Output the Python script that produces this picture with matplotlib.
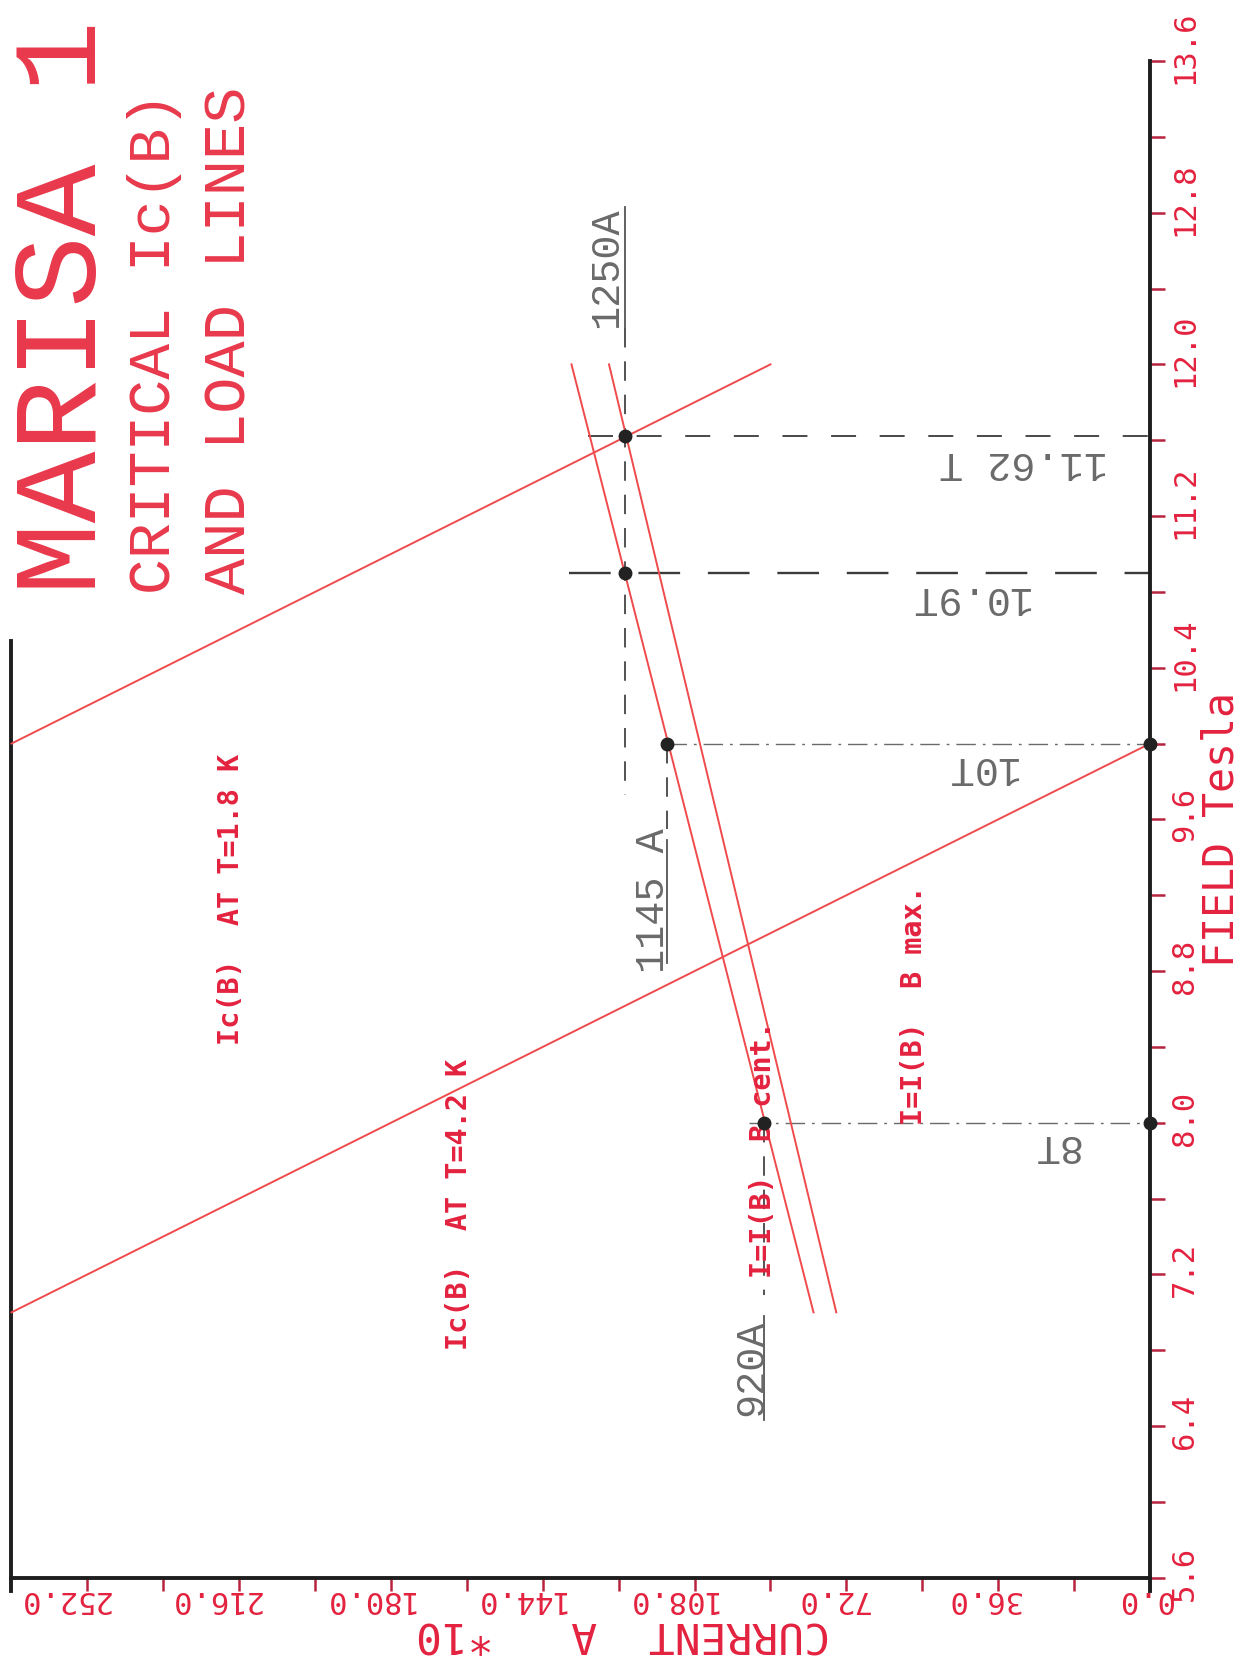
import matplotlib
matplotlib.use("Agg")
import matplotlib.pyplot as plt
from matplotlib.transforms import offset_copy

plt.rcParams['lines.scale_dashes'] = False
plt.rcParams['font.family'] = ['DejaVu Sans Mono', 'DejaVu Sans']

# ---------------- data ----------------
current_ticks = [0, 18, 36, 54, 72, 90, 108, 126, 144, 162, 180, 198, 216, 234, 252]
current_label_values = [0, 36, 72, 108, 144, 180, 216, 252]
field_ticks = [5.6, 6.0, 6.4, 6.8, 7.2, 7.6, 8.0, 8.4, 8.8, 9.2, 9.6, 10.0,
               10.4, 10.8, 11.2, 11.6, 12.0, 12.4, 12.8, 13.2, 13.6]
field_label_values = [5.6, 6.4, 7.2, 8.0, 8.8, 9.6, 10.4, 11.2, 12.0, 12.8, 13.6]

# critical current lines Ic(B)  (current in A*10, field in T)
ic42_field = [7.0, 10.0]
ic42_current = [270.0, 0.0]
ic18_field = [10.0, 12.0]
ic18_current = [270.0, 90.0]
# load lines
bcent_field = [7.0, 12.0]
bcent_current = [79.8, 137.2]
bmax_field = [7.0, 12.0]
bmax_current = [74.4, 128.3]

# operating points (black dots)
point_field = [11.62, 10.9, 10.0, 8.0, 10.0, 8.0]
point_current = [124.4, 124.4, 114.5, 91.6, 0.0, 0.0]

# hand drawn guide lines
h_guides_field = [11.62, 10.9, 10.0, 8.0]
h_guides_from = [133.3, 137.8, 114.5, 95.0]
v_guides_current = [124.4, 114.5, 91.6]
v_dash_from = [12.19, 10.0, 8.0]
v_dash_to = [9.73, 9.55, 7.09]
v_solid_from = [12.83, 9.49, 6.98]
v_solid_to = [12.19, 8.84, 6.43]

# ---------------- figure ----------------
W, H = 1249, 1663
fig = plt.figure(figsize=(W / 100, H / 100), dpi=100)
fig.patch.set_facecolor('white')

X0_PX = 1150.0       # pixel of current 0
PX_PER_I = 4.2167
Y_TOP_PX = 61.0      # pixel of field 13.6
PX_PER_B = 189.6
I_MAX, B_MIN, B_MAX = 270.0, 5.6, 13.6
left_px = X0_PX - I_MAX * PX_PER_I
bottom_px = Y_TOP_PX + (B_MAX - B_MIN) * PX_PER_B
ax = fig.add_axes([left_px / W, 1 - bottom_px / H,
                   (X0_PX - left_px) / W, (bottom_px - Y_TOP_PX) / H])
ax.set_xlim(I_MAX, 0)
ax.set_ylim(B_MIN, B_MAX)
ax.patch.set_alpha(0)

RED = '#e3223f'
LINE_RED = '#ef4a4c'
TICK_RED = '#b8233d'
DARK = '#1e1e1e'
GRAY = '#6a6a6a'
THIN_MONO = ['Liberation Mono', 'DejaVu Sans Mono']

# spines
ax.spines['top'].set_visible(False)
for s in ('left', 'right', 'bottom'):
    ax.spines[s].set_linewidth(2.8)
    ax.spines[s].set_color(DARK)
ax.spines['left'].set_bounds(5.53, 10.54)
ax.spines['right'].set_bounds(5.53, 13.6)

ax.set_xticks(current_ticks)
ax.yaxis.tick_right()
ax.set_yticks(field_ticks)
ax.tick_params(axis='x', direction='out', length=9, width=1.8, color=TICK_RED,
               labelbottom=False)
ax.tick_params(axis='y', direction='out', length=11, width=1.8, color=TICK_RED,
               labelright=False, labelleft=False, left=False)

# tick labels
for v in current_label_values:
    tr = offset_copy(ax.transData, fig=fig, x=22, y=-13, units='dots')
    ax.text(v, B_MIN, f'{v:.1f}', transform=tr, rotation=180, rotation_mode='anchor',
            ha='left', va='baseline', fontsize=22, color=RED, clip_on=False)
for v in field_label_values:
    tr = offset_copy(ax.transData, fig=fig, x=43, y=-23, units='dots')
    ax.text(0, v, f'{v:.1f}', transform=tr, rotation=90, rotation_mode='anchor',
            ha='left', va='baseline', fontsize=22, color=RED, clip_on=False)

# red lines
for xs, ys in ((ic42_current, ic42_field), (ic18_current, ic18_field),
               (bcent_current, bcent_field), (bmax_current, bmax_field)):
    ax.plot(xs, ys, color=LINE_RED, lw=1.4, clip_on=False, zorder=3)

# guide lines
h_styles = [dict(dashes=(18, 17), lw=1.3, color='#3a3a3a'),
            dict(dashes=(30, 20), lw=1.7, color='#3a3a3a'),
            dict(dashes=(14, 5, 2, 5), lw=1.0, color='#6a6a6a'),
            dict(dashes=(14, 5, 2, 5), lw=1.0, color='#6a6a6a')]
for f, i0, st in zip(h_guides_field, h_guides_from, h_styles):
    ax.plot([i0, 0], [f, f], zorder=2, **st)
for c, a, b in zip(v_guides_current, v_dash_from, v_dash_to):
    ax.plot([c, c], [a, b], color='#444444', lw=1.3, dashes=(14, 10), zorder=2)
for c, a, b in zip(v_guides_current, v_solid_from, v_solid_to):
    ax.plot([c, c], [a, b], color='#555555', lw=1.3, zorder=2)

# dots
ax.plot(point_current, point_field, 'o', color='#222222', ms=9, zorder=5, clip_on=False)

# red labels
bold = dict(color=RED, fontsize=20.5, fontweight='bold', rotation=90,
            rotation_mode='anchor', ha='center', va='center')
ax.text(217.9, 9.18, 'Ic(B)  AT T=1.8 K', **bold)
ax.text(163.9, 7.57, 'Ic(B)  AT T=4.2 K', **bold)
ax.text(91.8, 7.86, 'I=I(B)  B cent.', **bold)
ax.text(56.0, 8.62, 'I=I(B)  B max.', **bold)

# hand-written annotations
hand = dict(color=GRAY, fontsize=29, family=THIN_MONO,
            rotation_mode='anchor', ha='center', va='center')
ax.text(128.9, 12.51, '1250A', rotation=90, **hand)
ax.text(117.8, 9.17, '1145 A', rotation=90, **hand)
ax.text(94.6, 6.71, '920A', rotation=90, **hand)
ax.text(30.1, 11.48, '11.62 T', rotation=180, **hand)
ax.text(42.9, 10.77, '10.9T', rotation=180, **hand)
ax.text(40.1, 9.87, '10T', rotation=180, **hand)
ax.text(22.5, 7.88, '8T', rotation=180, **hand)


def ptext(x, y, s, **kw):
    fig.text(x / W, 1 - y / H, s, **kw)


# titles
title_kw = dict(color='#e8394b', rotation=90, rotation_mode='anchor',
                ha='left', va='baseline', family=THIN_MONO)
ptext(96, 594, 'MARISA 1', fontsize=86, **title_kw)
ptext(170, 594, 'CRITICAL Ic(B)', fontsize=43, **title_kw)
ptext(245, 594, 'AND LOAD LINES', fontsize=43.5, **title_kw)

# axis titles
ptext(1234, 967, 'FIELD Tesla', fontsize=30, color=RED, rotation=90,
      rotation_mode='anchor', ha='left', va='baseline')
ptext(830, 1622, 'CURRENT  A   *10', fontsize=31, color=RED, rotation=180,
      rotation_mode='anchor', ha='left', va='baseline')

fig.savefig('out.png', dpi=100)
